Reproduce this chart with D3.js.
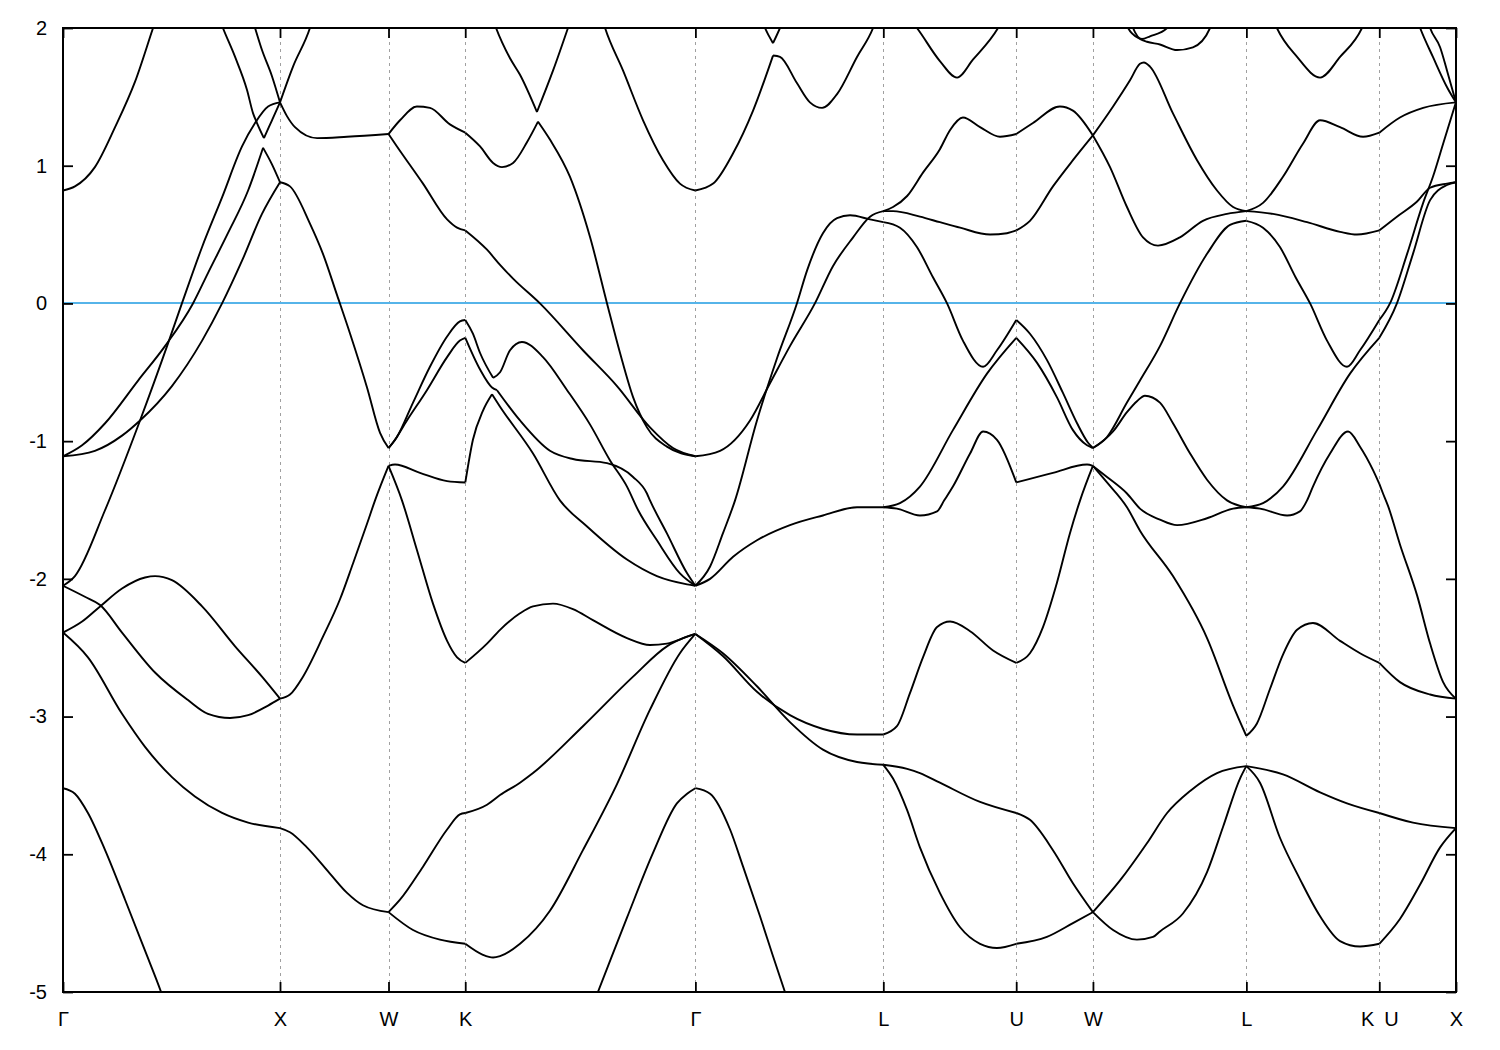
<!DOCTYPE html>
<html><head><meta charset="utf-8">
<script src="https://cdn.jsdelivr.net/npm/d3@7"></script>
<style>body{margin:0;background:#fff}svg{display:block}</style>
</head><body>
<svg id="c" width="1500" height="1050"></svg>
<script>
// high-symmetry k positions (2π/a units along the path) and labels
const kTicks = [0, 1, 1.5, 1.8536, 2.9142, 3.7802, 4.3926, 4.7462, 5.4533, 6.0657, 6.4193];
const kLabels = ["Γ","X","W","K","Γ","L","U","W","L","K\u2002U","X"];
const eTicks = [-5,-4,-3,-2,-1,0,1,2];
const eRange = [-5, 2];
const fermiLevel = 0;

// bands, each polyline = [k, E(eV)]
const segGX = [
 [[0,0.82],[0.055,0.85],[0.147,0.99],[0.240,1.28],[0.332,1.61],[0.415,2.0],[0.43,2.07]],
 [[0.72,2.07],[0.737,2.0],[0.793,1.79],[0.848,1.55],[0.876,1.38],[0.894,1.31],[0.926,1.20]],
 [[0.926,1.20],[0.963,1.33],[1.0,1.46]],
 [[0.875,2.05],[0.885,2.0],[0.917,1.84],[0.963,1.65],[1.0,1.46]],
 [[0,-2.05],[0.055,-1.98],[0.194,-1.50],[0.355,-0.85],[0.484,-0.29],[0.548,0.0],[0.641,0.41],[0.733,0.77],[0.825,1.14],[0.885,1.31],[0.945,1.43],[1.0,1.46]],
 [[0,-1.11],[0.088,-1.03],[0.194,-0.87],[0.346,-0.56],[0.470,-0.31],[0.599,0.0],[0.668,0.22],[0.760,0.51],[0.853,0.82],[0.922,1.13]],
 [[0.922,1.13],[0.963,1.01],[1.0,0.88]],
 [[0,-1.11],[0.147,-1.07],[0.272,-0.96],[0.355,-0.85],[0.502,-0.60],[0.641,-0.27],[0.733,0.0],[0.825,0.31],[0.917,0.65],[1.0,0.88]],
 [[0,-2.05],[0.101,-2.13],[0.171,-2.19],[0.272,-2.39],[0.424,-2.68],[0.576,-2.88],[0.668,-2.98],[0.770,-3.01],[0.853,-2.99],[0.945,-2.92],[1.0,-2.87]],
 [[0,-2.39],[0.088,-2.31],[0.171,-2.20],[0.272,-2.07],[0.378,-1.99],[0.424,-1.98],[0.502,-2.01],[0.641,-2.20],[0.793,-2.49],[0.917,-2.71],[1.0,-2.87]],
 [[0,-2.39],[0.115,-2.57],[0.272,-2.98],[0.378,-3.22],[0.502,-3.44],[0.608,-3.58],[0.733,-3.70],[0.853,-3.77],[1.0,-3.81]],
 [[0,-3.52],[0.055,-3.56],[0.115,-3.70],[0.194,-3.97],[0.286,-4.33],[0.378,-4.70],[0.452,-5.0],[0.47,-5.08]]
];
const segXW = [
 [[1.0,0.88],[1.046,0.85],[1.138,0.58],[1.198,0.36],[1.263,0.06],[1.323,-0.22],[1.401,-0.61],[1.461,-0.94],[1.5,-1.05]],
 [[1.0,1.46],[1.060,1.72],[1.138,2.0],[1.15,2.06]],
 [[1.0,1.46],[1.032,1.36],[1.069,1.28],[1.171,1.20],[1.309,1.21],[1.5,1.23]],
 [[1.0,-2.87],[1.046,-2.84],[1.106,-2.71],[1.198,-2.42],[1.276,-2.15],[1.336,-1.89],[1.401,-1.60],[1.438,-1.43],[1.5,-1.18]],
 [[1.0,-3.81],[1.046,-3.84],[1.124,-3.95],[1.230,-4.14],[1.309,-4.28],[1.382,-4.37],[1.5,-4.42]]
];
const segWK = [
 [[1.5,1.23],[1.553,1.33],[1.631,1.43],[1.691,1.42],[1.783,1.30],[1.854,1.24]],
 [[1.5,1.23],[1.539,1.14],[1.659,0.87],[1.770,0.61],[1.816,0.55],[1.854,0.53]],
 [[1.5,-1.05],[1.539,-0.97],[1.613,-0.72],[1.691,-0.46],[1.770,-0.24],[1.829,-0.13],[1.854,-0.12]],
 [[1.5,-1.05],[1.521,-1.01],[1.585,-0.85],[1.677,-0.63],[1.770,-0.39],[1.829,-0.27],[1.854,-0.25]],
 [[1.5,-1.18],[1.530,-1.17],[1.645,-1.23],[1.770,-1.29],[1.854,-1.30]],
 [[1.5,-1.18],[1.562,-1.43],[1.631,-1.79],[1.705,-2.18],[1.770,-2.45],[1.816,-2.57],[1.854,-2.61]],
 [[1.5,-4.42],[1.553,-4.33],[1.659,-4.09],[1.770,-3.82],[1.829,-3.71],[1.854,-3.70]],
 [[1.5,-4.42],[1.613,-4.55],[1.737,-4.62],[1.854,-4.65]]
];
const segKG = [
 [[1.854,1.24],[1.922,1.14],[1.982,1.02],[2.023,0.99],[2.074,1.02],[2.138,1.17],[2.189,1.32]],
 [[2.189,1.32],[2.244,1.19],[2.336,0.92],[2.429,0.48],[2.507,0.0],[2.567,-0.36],[2.627,-0.68],[2.691,-0.90],[2.783,-1.04],[2.914,-1.11]],
 [[1.98,2.07],[1.991,2.02],[2.060,1.78],[2.106,1.66],[2.184,1.39]],
 [[2.184,1.39],[2.258,1.69],[2.327,2.0],[2.34,2.06]],
 [[2.49,2.04],[2.498,2.0],[2.581,1.69],[2.673,1.33],[2.765,1.04],[2.843,0.87],[2.914,0.82]],
 [[1.854,0.53],[1.954,0.39],[2.014,0.28],[2.074,0.18],[2.198,0.0],[2.396,-0.34],[2.553,-0.60],[2.705,-0.90],[2.811,-1.05],[2.914,-1.11]],
 [[1.854,-0.12],[1.889,-0.22],[1.922,-0.36],[1.982,-0.54]],
 [[1.982,-0.54],[2.014,-0.50],[2.060,-0.34],[2.115,-0.28],[2.212,-0.39],[2.323,-0.63],[2.429,-0.88],[2.521,-1.14],[2.599,-1.33],[2.650,-1.50],[2.737,-1.72],[2.843,-1.96],[2.914,-2.05]],
 [[1.854,-0.25],[1.922,-0.48],[1.977,-0.61],[2.0,-0.63]],
 [[2.0,-0.63],[2.106,-0.85],[2.244,-1.07],[2.350,-1.13],[2.507,-1.16],[2.627,-1.26],[2.691,-1.38],[2.705,-1.43],[2.783,-1.67],[2.876,-1.96],[2.914,-2.05]],
 [[1.854,-1.30],[1.889,-0.99],[1.935,-0.78],[1.977,-0.66]],
 [[1.977,-0.66],[2.014,-0.75],[2.166,-1.09],[2.290,-1.43],[2.415,-1.62],[2.599,-1.86],[2.737,-1.98],[2.876,-2.04],[2.914,-2.05]],
 [[1.854,-2.61],[1.954,-2.47],[2.014,-2.37],[2.106,-2.25],[2.166,-2.20],[2.258,-2.18],[2.350,-2.22],[2.442,-2.30],[2.599,-2.43],[2.705,-2.48],[2.783,-2.47],[2.876,-2.42],[2.914,-2.40]],
 [[1.854,-3.70],[1.954,-3.64],[2.014,-3.57],[2.106,-3.48],[2.166,-3.41],[2.396,-3.07],[2.627,-2.71],[2.783,-2.49],[2.876,-2.42],[2.914,-2.40]],
 [[1.854,-4.65],[1.935,-4.73],[1.982,-4.75],[2.014,-4.74],[2.106,-4.65],[2.244,-4.41],[2.396,-3.97],[2.553,-3.49],[2.705,-2.95],[2.843,-2.54],[2.914,-2.40]],
 [[2.45,-5.06],[2.465,-5.0],[2.599,-4.46],[2.719,-3.99],[2.829,-3.63],[2.876,-3.56],[2.914,-3.52]]
];
const segGL = [
 [[2.914,0.82],[2.996,0.87],[3.088,1.09],[3.180,1.40],[3.272,1.80]],
 [[3.272,1.80],[3.304,1.79],[3.382,1.60],[3.442,1.46],[3.498,1.42],[3.567,1.52],[3.659,1.79],[3.733,2.0],[3.745,2.05]],
 [[3.22,2.06],[3.235,2.0],[3.272,1.89]],
 [[3.272,1.89],[3.304,2.0],[3.32,2.06]],
 [[2.914,-2.05],[2.982,-1.91],[3.041,-1.67],[3.097,-1.43],[3.198,-0.85],[3.290,-0.40],[3.382,0.0],[3.429,0.24],[3.502,0.51],[3.567,0.62],[3.627,0.64],[3.719,0.61],[3.780,0.59]],
 [[2.914,-1.11],[3.028,-1.07],[3.166,-0.85],[3.258,-0.58],[3.350,-0.31],[3.465,0.0],[3.548,0.27],[3.641,0.48],[3.719,0.63],[3.780,0.67]],
 [[2.914,-2.05],[2.982,-2.00],[3.088,-1.84],[3.198,-1.72],[3.350,-1.61],[3.502,-1.54],[3.659,-1.48],[3.780,-1.48]],
 [[2.914,-2.40],[3.041,-2.56],[3.198,-2.82],[3.350,-2.99],[3.502,-3.09],[3.659,-3.13],[3.780,-3.13]],
 [[2.914,-2.40],[3.041,-2.54],[3.198,-2.78],[3.350,-3.04],[3.502,-3.24],[3.659,-3.33],[3.780,-3.35]],
 [[2.914,-3.52],[2.982,-3.56],[3.074,-3.82],[3.134,-4.09],[3.212,-4.45],[3.272,-4.74],[3.327,-5.0],[3.34,-5.06]]
];
const segLU = [
 [[3.92,2.03],[3.935,2.0],[4.041,1.76],[4.120,1.64],[4.193,1.77],[4.309,2.0],[4.32,2.03]],
 [[3.780,0.67],[3.825,0.70],[3.890,0.78],[3.963,0.95],[4.041,1.12],[4.088,1.26],[4.147,1.35],[4.226,1.28],[4.318,1.21],[4.393,1.23]],
 [[3.780,0.67],[3.825,0.67],[3.949,0.63],[4.041,0.59],[4.134,0.55],[4.272,0.50],[4.350,0.51],[4.393,0.53]],
 [[3.780,0.59],[3.857,0.55],[3.935,0.41],[4.009,0.19],[4.074,0.0],[4.147,-0.27],[4.240,-0.46],[4.304,-0.34],[4.393,-0.12]],
 [[3.780,-1.48],[3.843,-1.49],[3.949,-1.54],[4.028,-1.51],[4.061,-1.43],[4.101,-1.33],[4.180,-1.09],[4.240,-0.93],[4.304,-0.99],[4.393,-1.30]],
 [[3.780,-1.48],[3.857,-1.45],[3.949,-1.33],[4.101,-0.92],[4.258,-0.51],[4.393,-0.25]],
 [[3.780,-3.13],[3.843,-3.07],[3.903,-2.83],[3.963,-2.57],[4.028,-2.35],[4.088,-2.31],[4.180,-2.38],[4.286,-2.52],[4.393,-2.61]],
 [[3.780,-3.35],[3.890,-3.38],[3.949,-3.41],[4.041,-3.48],[4.226,-3.62],[4.393,-3.70]],
 [[3.780,-3.35],[3.825,-3.45],[3.890,-3.68],[3.949,-3.95],[4.041,-4.28],[4.134,-4.53],[4.226,-4.65],[4.304,-4.68],[4.393,-4.65]]
];
const segUW = [
 [[4.393,1.23],[4.470,1.31],[4.594,1.43],[4.654,1.40],[4.746,1.22]],
 [[4.393,0.53],[4.456,0.60],[4.562,0.85],[4.654,1.04],[4.746,1.22]],
 [[4.393,-0.12],[4.456,-0.22],[4.534,-0.41],[4.608,-0.65],[4.673,-0.87],[4.723,-1.01],[4.746,-1.05]],
 [[4.393,-0.25],[4.488,-0.43],[4.580,-0.68],[4.654,-0.92],[4.719,-1.03],[4.746,-1.05]],
 [[4.393,-1.30],[4.562,-1.23],[4.719,-1.17],[4.746,-1.18]],
 [[4.393,-2.61],[4.456,-2.54],[4.516,-2.35],[4.580,-2.03],[4.640,-1.67],[4.687,-1.43],[4.746,-1.18]],
 [[4.393,-3.70],[4.456,-3.75],[4.562,-3.97],[4.654,-4.21],[4.746,-4.42]],
 [[4.393,-4.65],[4.534,-4.60],[4.654,-4.50],[4.746,-4.42]]
];
const segWL = [
 [[4.746,1.22],[4.839,1.43],[4.917,1.62],[4.963,1.74],[4.981,1.75],[5.009,1.72],[5.115,1.38],[5.226,1.04],[5.318,0.82],[5.392,0.70],[5.453,0.67]],
 [[4.746,1.22],[4.825,0.99],[4.903,0.70],[4.977,0.48],[5.046,0.42],[5.147,0.48],[5.253,0.60],[5.364,0.65],[5.453,0.67]],
 [[4.895,2.06],[4.908,2.0],[4.963,1.92],[4.995,1.90],[5.055,1.88],[5.134,1.84],[5.207,1.86],[5.286,2.0],[5.30,2.06]],
 [[4.92,2.05],[4.931,2.0],[4.972,1.92],[5.009,1.94],[5.088,2.0],[5.10,2.03]],
 [[4.746,-1.05],[4.839,-0.93],[4.903,-0.79],[4.949,-0.71],[4.986,-0.67],[5.055,-0.72],[5.115,-0.87],[5.194,-1.09],[5.272,-1.28],[5.364,-1.43],[5.453,-1.48]],
 [[4.746,-1.05],[4.811,-0.97],[4.903,-0.72],[4.963,-0.56],[5.055,-0.31],[5.147,0.0],[5.272,0.36],[5.378,0.57],[5.453,0.60]],
 [[4.746,-1.18],[4.811,-1.26],[4.903,-1.38],[4.963,-1.49],[5.055,-1.57],[5.134,-1.61],[5.272,-1.56],[5.392,-1.49],[5.453,-1.48]],
 [[4.746,-1.18],[4.811,-1.30],[4.903,-1.48],[4.963,-1.65],[5.115,-1.98],[5.272,-2.43],[5.392,-2.92],[5.453,-3.14]],
 [[4.746,-4.42],[4.871,-4.19],[4.995,-3.92],[5.088,-3.70],[5.194,-3.54],[5.318,-3.41],[5.453,-3.36]],
 [[4.746,-4.42],[4.839,-4.55],[4.949,-4.62],[5.023,-4.60],[5.055,-4.56],[5.161,-4.43],[5.272,-4.13],[5.346,-3.80],[5.424,-3.45],[5.453,-3.36]]
];
const segLK = [
 [[5.58,2.05],[5.594,2.0],[5.687,1.79],[5.793,1.64],[5.885,1.79],[5.986,2.0],[6.0,2.05]],
 [[5.453,0.67],[5.530,0.73],[5.622,0.92],[5.714,1.16],[5.793,1.33],[5.885,1.28],[5.991,1.21],[6.066,1.24]],
 [[5.453,0.67],[5.576,0.65],[5.733,0.59],[5.885,0.52],[5.963,0.50],[6.066,0.53]],
 [[5.453,0.60],[5.530,0.55],[5.608,0.41],[5.680,0.19],[5.747,0.0],[5.825,-0.27],[5.917,-0.46],[5.977,-0.34],[6.066,-0.12]],
 [[5.453,-1.48],[5.516,-1.49],[5.641,-1.54],[5.700,-1.51],[5.733,-1.43],[5.760,-1.33],[5.839,-1.09],[5.922,-0.93],[5.977,-1.04],[6.037,-1.21],[6.066,-1.31]],
 [[5.453,-1.48],[5.530,-1.45],[5.622,-1.33],[5.779,-0.92],[5.931,-0.51],[6.066,-0.25]],
 [[5.453,-3.14],[5.502,-3.05],[5.562,-2.80],[5.622,-2.55],[5.687,-2.37],[5.760,-2.32],[5.885,-2.45],[5.977,-2.54],[6.066,-2.61]],
 [[5.453,-3.36],[5.622,-3.42],[5.793,-3.55],[5.917,-3.63],[6.066,-3.70]],
 [[5.453,-3.36],[5.516,-3.48],[5.608,-3.88],[5.700,-4.18],[5.793,-4.45],[5.885,-4.63],[5.977,-4.67],[6.066,-4.65]]
];
const segUX = [
 [[6.066,1.24],[6.161,1.35],[6.268,1.42],[6.419,1.46]],
 [[6.066,0.53],[6.147,0.63],[6.240,0.74],[6.300,0.84],[6.378,0.87],[6.419,0.88]],
 [[6.066,-0.12],[6.115,0.0],[6.194,0.36],[6.268,0.73],[6.313,0.92],[6.360,1.16],[6.419,1.46]],
 [[6.066,-0.25],[6.147,0.0],[6.221,0.36],[6.300,0.75],[6.378,0.86],[6.419,0.88]],
 [[6.240,2.06],[6.254,2.0],[6.313,1.79],[6.378,1.57],[6.419,1.46]],
 [[6.29,2.05],[6.300,2.0],[6.346,1.86],[6.378,1.69],[6.419,1.46]],
 [[6.066,-1.31],[6.083,-1.38],[6.106,-1.47],[6.161,-1.75],[6.240,-2.12],[6.300,-2.47],[6.360,-2.75],[6.419,-2.87]],
 [[6.066,-2.61],[6.161,-2.75],[6.300,-2.84],[6.419,-2.87]],
 [[6.066,-3.70],[6.221,-3.77],[6.419,-3.81]],
 [[6.066,-4.65],[6.161,-4.47],[6.254,-4.22],[6.346,-3.95],[6.419,-3.81]]
];

const bands = [].concat(segGX, segXW, segWK, segKG, segGL, segLU, segUW, segWL, segLK, segUX);

const svg = d3.select("#c");
const L = 63, R = 1456, T = 28, B = 992;
const x = d3.scaleLinear().domain([kTicks[0], kTicks[kTicks.length-1]]).range([L, R]);
const y = d3.scaleLinear().domain(eRange).range([B, T]);
const font = "'Liberation Sans', Arial, Helvetica, sans-serif";

svg.append("rect").attr("width",1500).attr("height",1050).attr("fill","#fff");
svg.append("defs").append("clipPath").attr("id","clip")
  .append("rect").attr("x",L).attr("y",T).attr("width",R-L).attr("height",B-T);

// dashed verticals at interior high-symmetry points
svg.append("g").selectAll("line").data(kTicks.slice(1,-1)).join("line")
  .attr("x1",d=>Math.round(x(d))+0.5).attr("x2",d=>Math.round(x(d))+0.5)
  .attr("y1",T).attr("y2",B)
  .attr("stroke","#a0a0a0").attr("stroke-width",1).attr("stroke-dasharray","3,4");

// Fermi level
svg.append("line").attr("x1",L).attr("x2",R)
  .attr("y1",Math.round(y(fermiLevel))).attr("y2",Math.round(y(fermiLevel)))
  .attr("stroke","#56b4e9").attr("stroke-width",2);

// bands
const line = d3.line().x(d=>x(d[0])).y(d=>y(d[1])).curve(d3.curveMonotoneX);
svg.append("g").attr("clip-path","url(#clip)").selectAll("path").data(bands).join("path")
  .attr("d",line).attr("fill","none").attr("stroke","#000")
  .attr("stroke-width",1.9).attr("stroke-linejoin","round");

// axes
function style(g){
  g.select(".domain").remove();
  g.selectAll(".tick line").attr("stroke","#000").attr("stroke-width",1.8);
  g.selectAll("text").attr("font-family",font).attr("font-size",20).attr("fill","#000");
}
svg.append("g").attr("transform",`translate(${L},0)`)
  .call(d3.axisLeft(y).tickValues(eTicks).tickSizeInner(-10).tickSizeOuter(0).tickPadding(16).tickFormat(d=>String(d)))
  .call(style);
svg.append("g").attr("transform",`translate(${R},0)`)
  .call(d3.axisRight(y).tickValues(eTicks).tickSizeInner(-10).tickSizeOuter(0).tickFormat(""))
  .call(style);
svg.append("g").attr("transform",`translate(0,${B})`)
  .call(d3.axisBottom(x).tickValues(kTicks).tickSizeInner(-10).tickSizeOuter(0).tickPadding(20).tickFormat((d,i)=>kLabels[i]))
  .call(style);
svg.append("g").attr("transform",`translate(0,${T})`)
  .call(d3.axisTop(x).tickValues(kTicks).tickSizeInner(-10).tickSizeOuter(0).tickFormat(""))
  .call(style);

// frame
svg.append("rect").attr("x",L).attr("y",T).attr("width",R-L).attr("height",B-T)
  .attr("fill","none").attr("stroke","#000").attr("stroke-width",2);
</script>
</body></html>
